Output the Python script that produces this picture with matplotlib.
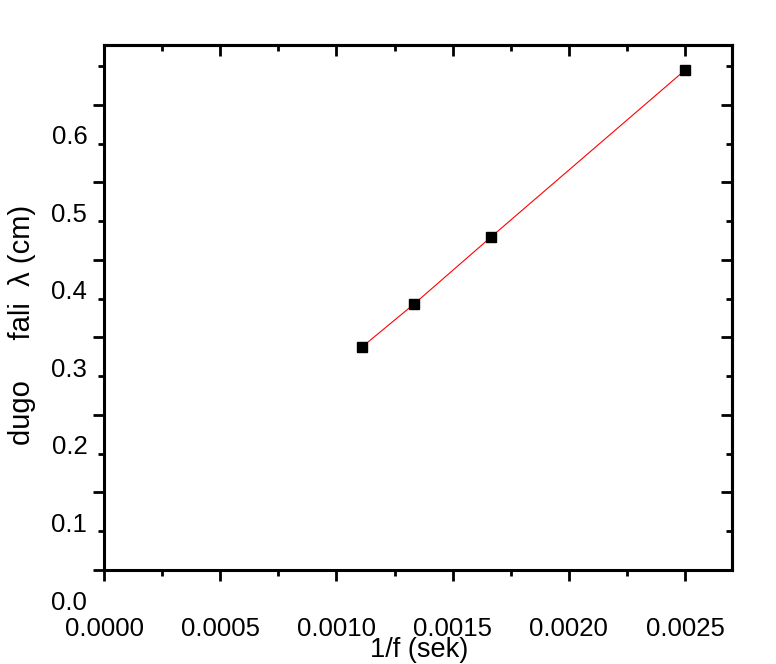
import matplotlib
matplotlib.use("Agg")
import matplotlib.pyplot as plt
import matplotlib.transforms as mtransforms
import numpy as np

# data
inv_f = [1/900, 1/750, 1/600, 1/400]          # 1/f (sek)
wavelength = [0.288, 0.343, 0.430, 0.645]     # lambda (cm)
x_ticks = [0.0, 0.0005, 0.0010, 0.0015, 0.0020, 0.0025]
x_tick_labels = ["0.0000", "0.0005", "0.0010", "0.0015", "0.0020", "0.0025"]
y_ticks = [0.0, 0.1, 0.2, 0.3, 0.4, 0.5, 0.6]
y_tick_labels = ["0.0", "0.1", "0.2", "0.3", "0.4", "0.5", "0.6"]

plt.rcParams['font.family'] = ['Liberation Sans', 'DejaVu Sans']

W, H = 776, 664
fig = plt.figure(figsize=(W/100, H/100), dpi=100)
ax = fig.add_axes([104/W, 1-570/H, (732-104)/W, (570-45)/H])

ax.plot(inv_f, wavelength, color='red', lw=0.8, zorder=2)
ax.plot(inv_f, wavelength, ls='none', marker='s', ms=7.2, color='black',
        mec='black', zorder=3)

ax.set_xlim(0, 0.002702)
ax.set_ylim(0, 0.6774)

ax.set_xticks(x_ticks)
ax.set_xticklabels(x_tick_labels)
ax.set_xticks(np.arange(0.00025, 0.0027, 0.0005), minor=True)
ax.set_yticks(y_ticks)
ax.set_yticklabels(y_tick_labels)
ax.set_yticks(np.arange(0.05, 0.68, 0.1), minor=True)

for s in ax.spines.values():
    s.set_linewidth(2.2)

ax.tick_params(axis='both', which='major', length=8, width=2.0, labelsize=18.5)
ax.tick_params(axis='both', which='minor', length=4.3, width=2.0)
ax.tick_params(axis='x', which='both', direction='out', top=False)
ax.tick_params(axis='x', which='major', pad=26)
ax.tick_params(axis='y', which='both', direction='out', right=False)
ax.tick_params(axis='y', which='major', pad=4)

# inward ticks on top/right
axt = ax.secondary_xaxis('top')
axt.set_xticks(x_ticks)
axt.set_xticks(np.arange(0.00025, 0.0027, 0.0005), minor=True)
axt.tick_params(which='major', direction='in', length=8, width=2.0, labeltop=False)
axt.tick_params(which='minor', direction='in', length=4.3, width=2.0)
axt.spines['top'].set_linewidth(2.2)
axr = ax.secondary_yaxis('right')
axr.set_yticks(y_ticks)
axr.set_yticks(np.arange(0.05, 0.68, 0.1), minor=True)
axr.tick_params(which='major', direction='in', length=8, width=2.0, labelright=False)
axr.tick_params(which='minor', direction='in', length=4.3, width=2.0)
axr.spines['right'].set_linewidth(2.2)

# y tick labels are drawn shifted downward in the original
off = mtransforms.ScaledTranslation(0, -0.30, fig.dpi_scale_trans)
for lab in ax.get_yticklabels():
    lab.set_transform(lab.get_transform() + off)

fig.text(419/W, 1-650/H, "1/f (sek)", ha='center', va='center', fontsize=19.5)
fig.text(22/W, 1-325/H, "dugo     fali  \u03bb (cm)", ha='center', va='center',
         rotation=90, fontsize=21)

fig.savefig("out.png", dpi=100)
